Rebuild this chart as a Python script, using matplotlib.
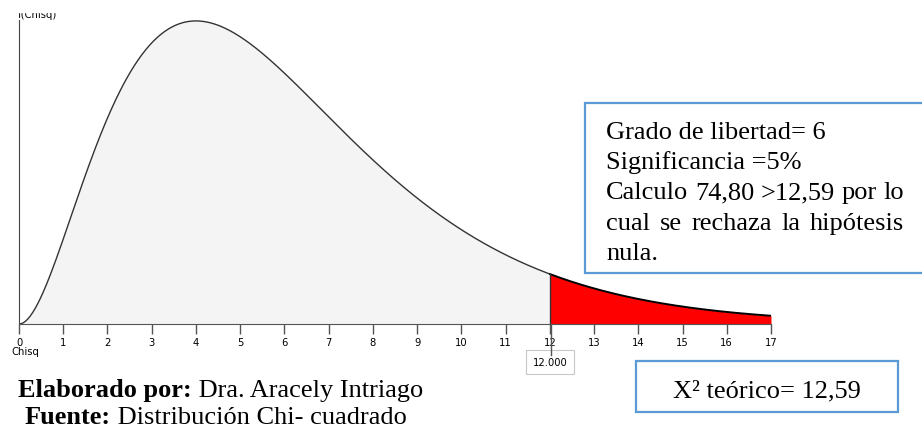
"""Chi-square (df = 6) density with the rejection region above the critical value."""
import math

import numpy as np
import matplotlib
matplotlib.use("Agg")
import matplotlib.pyplot as plt  # noqa: E402
from matplotlib.lines import Line2D  # noqa: E402
from matplotlib.patches import Rectangle  # noqa: E402
from matplotlib.text import Annotation  # noqa: E402

DF = 6
CRITICAL = 12.0
X_MAX = 17
X_TICKS = list(range(0, X_MAX + 1))
CRITICAL_LABEL = "12.000"
NOTE_LINES = [
    "Grado de libertad= 6",
    "Significancia =5%",
    "Calculo 74,80 >12,59 por lo",
    "cual se rechaza la hipótesis",
    "nula.",
]
JUSTIFIED = {2, 3}
THEORETICAL = "X² teórico= 12,59"
CREDITS = [
    ("Elaborado por:", " Dra. Aracely Intriago"),
    ("Fuente:", " Distribución Chi- cuadrado"),
]

W, H = 922, 434
SERIF = ["Liberation Serif", "DejaVu Serif"]
SMALL = dict(family=["DejaVu Sans"], fontstretch="condensed", fontsize=8)
BLUE = "#5b9bd5"


def fx(px):
    return px / W


def fy(py):
    return 1 - py / H


def chi2_pdf(x, k):
    return x ** (k / 2 - 1) * np.exp(-x / 2) / (2 ** (k / 2) * math.gamma(k / 2))


def justified_line(fig, x0, x1, base, text, **kw):
    """Spread the words of one line so it fills x0..x1 (pixels)."""
    renderer = fig.canvas.get_renderer()
    words = text.split()
    arts = [fig.text(0, fy(base), w, ha="left", va="baseline", **kw) for w in words]
    widths = [a.get_window_extent(renderer).width for a in arts]
    gap = (x1 - x0 - sum(widths)) / (len(words) - 1)
    pos = x0
    for art, w in zip(arts, widths):
        art.set_x(fx(pos))
        pos += w + gap


fig = plt.figure(figsize=(W / 100, H / 100), dpi=100)
ax = fig.add_axes([fx(19), fy(324), fx(752), (324 - 20) / H])

x = np.linspace(0, X_MAX, 600)
y = chi2_pdf(x, DF)
left = x <= CRITICAL
right = x >= CRITICAL
ax.fill_between(x[left], 0, y[left], color="#f4f4f4", lw=0)
ax.fill_between(x[right], 0, y[right], color="#ff0000", lw=0)
ax.plot(x[left], y[left], color="#333333", lw=1.0)
ax.plot(x[right], y[right], color="#000000", lw=1.4)
ax.plot([CRITICAL, CRITICAL], [0, chi2_pdf(CRITICAL, DF)], color="#333333", lw=1.0)
ax.plot([X_MAX, X_MAX], [0, chi2_pdf(X_MAX, DF)], color="#ff0000", lw=1.0)

peak = chi2_pdf(DF - 2, DF)
ax.set_xlim(0, X_MAX)
ax.set_ylim(0, peak * 1.003)
for side in ("top", "right"):
    ax.spines[side].set_visible(False)
ax.spines["left"].set_color("#444444")
ax.spines["bottom"].set_color("#555555")
ax.set_yticks([])
ax.set_xticks(X_TICKS)
ax.set_xticklabels([str(t) for t in X_TICKS], **SMALL)
ax.tick_params(axis="x", direction="out", length=7, width=1, color="#555555", pad=3)
ax.patch.set_alpha(0)

# axis titles
fig.text(fx(18), fy(15), "f(Chisq)", ha="left", va="center", **SMALL)
fig.patches.append(Rectangle((0, fy(12)), 1, 1, transform=fig.transFigure,
                             color="white", zorder=5))
fig.text(fx(11), fy(352), "Chisq", ha="left", va="center", **SMALL)

# critical value marker
fig.patches.append(Rectangle((fx(526), fy(374)), fx(48), (374 - 350) / H,
                             transform=fig.transFigure, facecolor="white",
                             edgecolor="#c8c8c8", lw=0.8, zorder=1))
fig.lines.append(Line2D([fx(551), fx(551)], [fy(324), fy(355)], transform=fig.transFigure,
                        color="#555555", lw=1.0, zorder=2))
fig.text(fx(550), fy(363), CRITICAL_LABEL, ha="center", va="center", zorder=3, **SMALL)

# decision note
fig.patches.append(Rectangle((fx(585), fy(273)), fx(360), (273 - 103) / H,
                             transform=fig.transFigure, facecolor="white",
                             edgecolor=BLUE, lw=1.6, zorder=4))
for i, line in enumerate(NOTE_LINES):
    base = 139 + 30.2 * i
    if i in JUSTIFIED:
        justified_line(fig, 606, 904, base, line, family=SERIF, fontsize=19, zorder=6)
    else:
        fig.text(fx(606), fy(base), line, family=SERIF, fontsize=19,
                 ha="left", va="baseline", zorder=6)

# theoretical value
fig.patches.append(Rectangle((fx(636), fy(412)), fx(262), (412 - 361) / H,
                             transform=fig.transFigure, facecolor="white",
                             edgecolor=BLUE, lw=1.6, zorder=4))
fig.text(fx(767), fy(397), THEORETICAL, family=SERIF, fontsize=19,
         ha="center", va="baseline", zorder=6)

# credits
for (bold, rest), x0, base in zip(CREDITS, (18, 25), (397, 424)):
    t = fig.text(fx(x0), fy(base), bold, family=SERIF, fontsize=19,
                 fontweight="bold", ha="left", va="baseline")
    fig.add_artist(Annotation(rest, xy=(1, 0), xycoords=t, va="bottom", ha="left",
                              family=SERIF, fontsize=19))

fig.savefig("out.png", dpi=100)
